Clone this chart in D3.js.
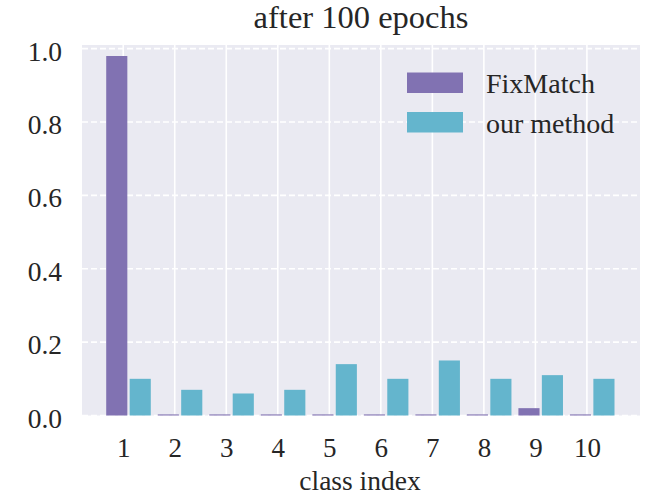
<!DOCTYPE html>
<html>
<head>
<meta charset="utf-8">
<script src="https://cdn.jsdelivr.net/npm/d3@7"></script>
<style>
  html, body { margin: 0; padding: 0; background: #ffffff; }
  svg { display: block; }
  text { font-family: "Liberation Serif", "Times New Roman", serif; fill: #262626; }
</style>
</head>
<body>
<svg id="chart" width="647" height="496"></svg>
<script>
// Per-class share of pseudo-labels after 100 epochs
const classes = [1, 2, 3, 4, 5, 6, 7, 8, 9, 10];
const fixMatch = [0.98, 0.003, 0.003, 0.003, 0.003, 0.003, 0.003, 0.003, 0.02, 0.003];
const ourMethod = [0.10, 0.07, 0.06, 0.07, 0.14, 0.10, 0.15, 0.10, 0.11, 0.10];
const yTicks = [0.0, 0.2, 0.4, 0.6, 0.8, 1.0];
const seriesNames = ["FixMatch", "our method"];
const seriesColors = ["#8172b2", "#64b5cd"];

const svg = d3.select("#chart");
const plot = { left: 82, right: 640, top: 45, bottom: 415.5 };

const x = d3.scaleLinear().domain([0.2, 11.03]).range([plot.left, plot.right]);
const y = d3.scaleLinear().domain([0, 1.01]).range([plot.bottom, plot.top]);

const barW = 0.41;
const offsets = [-0.33, 0.125];

// background
svg.append("rect")
  .attr("x", plot.left).attr("y", plot.top)
  .attr("width", plot.right - plot.left).attr("height", plot.bottom - plot.top)
  .attr("fill", "#eaeaf2");

// vertical grid (solid)
svg.append("g").selectAll("line").data(classes).join("line")
  .attr("x1", d => x(d)).attr("x2", d => x(d))
  .attr("y1", plot.top).attr("y2", plot.bottom)
  .attr("stroke", "#ffffff").attr("stroke-width", 1.6);

// horizontal grid (dashed)
svg.append("g").selectAll("line").data(yTicks).join("line")
  .attr("x1", plot.left).attr("x2", plot.right)
  .attr("y1", d => y(d)).attr("y2", d => y(d))
  .attr("stroke", "#ffffff").attr("stroke-width", 1.6)
  .attr("stroke-dasharray", "6,3");

// bars
const series = [fixMatch, ourMethod];
series.forEach((vals, si) => {
  svg.append("g").selectAll("rect").data(classes).join("rect")
    .attr("x", d => x(d + offsets[si]))
    .attr("width", x(barW) - x(0))
    .attr("y", (d, i) => y(vals[i]))
    .attr("height", (d, i) => y(0) - y(vals[i]))
    .attr("fill", seriesColors[si]);
});

// x axis
const xAxis = d3.axisBottom(x).tickValues(classes).tickFormat(d3.format("d")).tickSize(0).tickPadding(22);
const gx = svg.append("g").attr("transform", `translate(0,${plot.bottom})`).call(xAxis);
gx.select(".domain").remove();
gx.selectAll("text").attr("font-size", 27).attr("fill", "#262626")
  .style("font-family", "'Liberation Serif', serif");

// y axis
const yAxis = d3.axisLeft(y).tickValues(yTicks).tickFormat(d3.format(".1f")).tickSize(0).tickPadding(20);
const gy = svg.append("g").attr("transform", `translate(${plot.left},0)`).call(yAxis);
gy.select(".domain").remove();
gy.selectAll("text").attr("font-size", 27.5).attr("fill", "#262626").attr("dy", "0.42em")
  .style("font-family", "'Liberation Serif', serif");

// title and axis label
svg.append("text").attr("x", (plot.left + plot.right) / 2).attr("y", 28)
  .attr("text-anchor", "middle").attr("font-size", 32.5).text("after 100 epochs");
svg.append("text").attr("x", (plot.left + plot.right) / 2 - 1).attr("y", 490)
  .attr("text-anchor", "middle").attr("font-size", 27.5).text("class index");

// legend
const legend = svg.append("g");
seriesNames.forEach((name, i) => {
  const ly = 72.5 + i * 39.5;
  legend.append("rect").attr("x", 407).attr("y", ly).attr("width", 56).attr("height", 20.5)
    .attr("fill", seriesColors[i]);
  legend.append("text").attr("x", 486).attr("y", ly + 20.5).attr("font-size", 28).text(name);
});
</script>
</body>
</html>
